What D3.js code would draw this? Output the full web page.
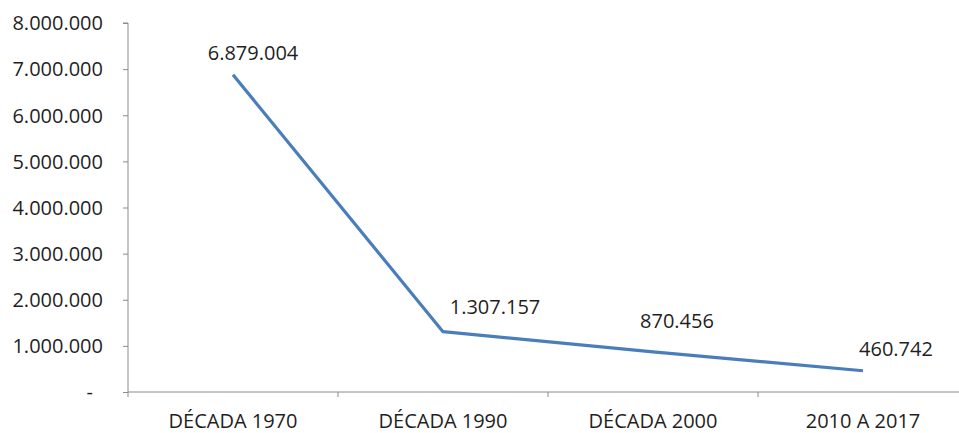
<!DOCTYPE html>
<html>
<head>
<meta charset="utf-8">
<script src="https://cdn.jsdelivr.net/npm/d3@7"></script>
<style>
  html, body { margin: 0; padding: 0; background: #fff; }
  svg { display: block; }
  text { font-family: "Open Sans", "Liberation Sans", sans-serif; fill: #1f1f1f; }
</style>
</head>
<body>
<svg id="chart" width="959" height="433"></svg>
<script>
// Periods and totals per period
const categories = ["DÉCADA 1970", "DÉCADA 1990", "DÉCADA 2000", "2010 A 2017"];
const values = [6879004, 1307157, 870456, 460742];
const yTicks = [0, 1000000, 2000000, 3000000, 4000000, 5000000, 6000000, 7000000, 8000000];

const locale = d3.formatLocale({ decimal: ",", thousands: ".", grouping: [3], currency: ["", ""] });
const fmt = locale.format(",d");

const svg = d3.select("#chart");
const fontSize = "20px";

const plot = { left: 128, right: 968, top: 23, bottom: 392 };

const x = d3.scaleBand().domain(categories).range([plot.left, plot.right]);
const y = d3.scaleLinear().domain([0, 8000000]).range([plot.bottom, plot.top]);
const cx = d => x(d) + x.bandwidth() / 2;

const axisColor = "#8c8c8c";

// Y axis
const yAxis = svg.append("g")
  .attr("transform", `translate(${plot.left},0)`)
  .call(d3.axisLeft(y).tickValues(yTicks).tickSize(5).tickPadding(20)
    .tickFormat(v => v === 0 ? "-" : fmt(v)));
yAxis.select(".domain").attr("stroke", axisColor).attr("d", `M-5,${plot.top}H0V${plot.bottom + 5}`);
yAxis.selectAll(".tick line").attr("stroke", axisColor);
yAxis.selectAll(".tick text")
  .style("font-size", fontSize)
  .attr("fill", "#1f1f1f")
  .attr("dy", "0.34em")
  .attr("dx", v => v === 0 ? -10 : 0);

// X axis: baseline, boundary ticks, centred category labels
const xAxis = svg.append("g").attr("transform", `translate(0,${plot.bottom})`);
xAxis.append("line")
  .attr("x1", plot.left).attr("x2", plot.right)
  .attr("stroke", axisColor);
xAxis.selectAll("line.bound")
  .data(categories.slice(1))
  .join("line")
  .attr("class", "bound")
  .attr("x1", d => x(d)).attr("x2", d => x(d))
  .attr("y1", 0).attr("y2", 5)
  .attr("stroke", axisColor);
xAxis.selectAll("text.cat")
  .data(categories)
  .join("text")
  .attr("class", "cat")
  .attr("x", d => cx(d))
  .attr("y", 36)
  .attr("text-anchor", "middle")
  .style("font-size", fontSize)
  .text(d => d);

// Series line
const pts = categories.map((c, i) => [cx(c), y(values[i])]);
svg.append("path")
  .attr("d", d3.line()(pts))
  .attr("fill", "none")
  .attr("stroke", "#4a7ebb")
  .attr("stroke-width", 3.2)
  .attr("stroke-linejoin", "round")
  .attr("stroke-linecap", "butt");

// Value labels, offset up-right of each point
const labelDx = [20, 52, 24, 33];
const labelDy = [-15, -18, -24, -15];
svg.selectAll("text.val")
  .data(values)
  .join("text")
  .attr("class", "val")
  .attr("x", (v, i) => pts[i][0] + labelDx[i])
  .attr("y", (v, i) => pts[i][1] + labelDy[i])
  .attr("text-anchor", "middle")
  .style("font-size", fontSize)
  .text(v => fmt(v));
</script>
</body>
</html>
